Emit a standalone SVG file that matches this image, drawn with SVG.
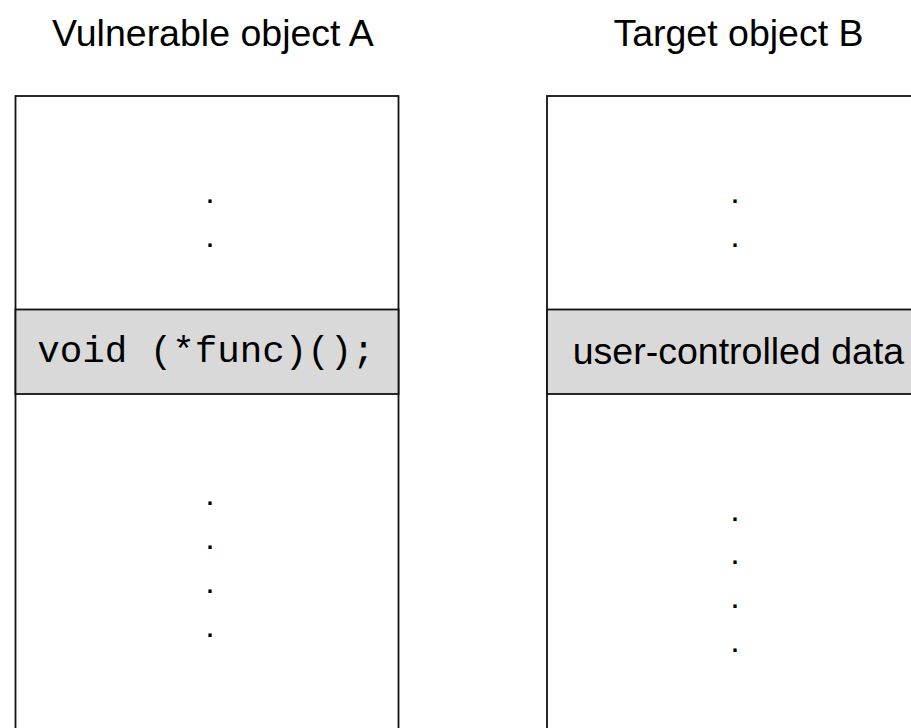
<svg xmlns="http://www.w3.org/2000/svg" width="911" height="728" viewBox="0 0 911 728">
  <style>
    .title { font-family: "Liberation Sans", Arial, Helvetica, sans-serif; font-size: 37.5px; fill: #000; text-anchor: middle; }
    .frame { fill: #fff; stroke: #111; stroke-width: 1.8; }
    .field { fill: #d9d9d9; stroke: #111; stroke-width: 1.8; }
    .code { font-family: "Liberation Mono", "Courier New", monospace; font-size: 37.5px; fill: #000; text-anchor: middle; }
    .label { font-family: "Liberation Sans", Arial, Helvetica, sans-serif; font-size: 37.5px; fill: #000; text-anchor: middle; }
    .dot { font-family: "Liberation Sans", Arial, Helvetica, sans-serif; font-size: 34px; fill: #000; text-anchor: middle; }
  </style>
  <rect width="911" height="728" fill="#fff"/>

  <!-- Object A: vulnerable object with function pointer -->
  <g id="object-a">
    <text class="title" x="213" y="45.5">Vulnerable object A</text>
    <rect class="frame" x="15.5" y="96" width="383" height="660"/>
    <rect class="field" x="15.5" y="309.5" width="383" height="84.5"/>
    <text class="code" x="206" y="362">void (*func)();</text>
    <text class="dot" x="210" y="202.7">.</text>
    <text class="dot" x="210" y="246.7">.</text>
    <text class="dot" x="210" y="504.7">.</text>
    <text class="dot" x="210" y="548.7">.</text>
    <text class="dot" x="210" y="592.7">.</text>
    <text class="dot" x="210" y="636.7">.</text>
  </g>

  <!-- Object B: target object holding user-controlled data -->
  <g id="object-b">
    <text class="title" x="738.5" y="45.5">Target object B</text>
    <rect class="frame" x="547" y="96" width="400" height="660"/>
    <rect class="field" x="547" y="309.5" width="400" height="84.5"/>
    <text class="label" x="738.5" y="364">user-controlled data</text>
    <text class="dot" x="735" y="202.7">.</text>
    <text class="dot" x="735" y="246.7">.</text>
    <text class="dot" x="735" y="520.5">.</text>
    <text class="dot" x="735" y="564">.</text>
    <text class="dot" x="735" y="607.7">.</text>
    <text class="dot" x="735" y="651.5">.</text>
  </g>

  <g id="connectors"></g>
</svg>
